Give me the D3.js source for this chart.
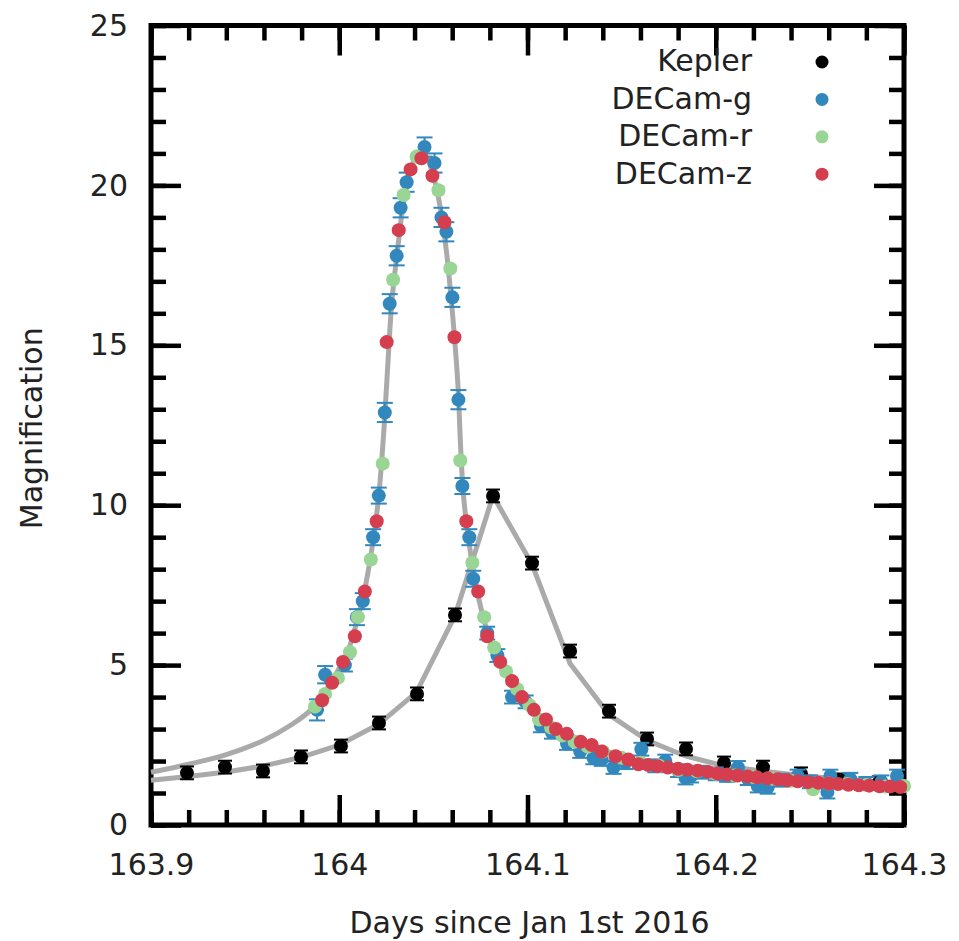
<!DOCTYPE html>
<html>
<head>
<meta charset="utf-8">
<script src="https://cdn.jsdelivr.net/npm/d3@7"></script>
<style>
  body { margin: 0; background: #fff; }
  text { font-family: "DejaVu Sans", sans-serif; fill: #222; }
</style>
</head>
<body>
<svg id="chart" width="959" height="941"></svg>
<script>
// ---- data ----
// Kepler photometry: time, magnification, error
var keplerT   = [163.9191,163.9393,163.9595,163.9797,164.0009,164.0211,164.0413,164.0615,164.0817,164.1024,164.1226,164.1433,164.1635,164.1842,164.2044,164.2251,164.2453,164.2660,164.2866];
var keplerMag = [1.63,1.81,1.69,2.13,2.47,3.19,4.10,6.57,10.29,8.19,5.44,3.56,2.69,2.38,1.94,1.81,1.60,1.41,1.32];
var keplerErr = 0.2;

// DECam bands: [time, magnification, error]
var decamG = [[163.9882,3.6,0.33],[163.9925,4.7,0.27],[164.0030,5.0,0.2],[164.0094,6.5,0.25],[164.0125,7.0,0.25],
  [164.0180,9.0,0.25],[164.0210,10.3,0.25],[164.0242,12.9,0.3],[164.0268,16.3,0.3],[164.0305,17.8,0.3],
  [164.0326,19.3,0.3],[164.0358,20.1,0.3],[164.0453,21.2,0.3],[164.0506,20.7,0.3],[164.0543,19.0,0.3],
  [164.0569,18.55,0.3],[164.0601,16.5,0.3],[164.0633,13.3,0.3],[164.0654,10.6,0.25],[164.0691,9.0,0.25],
  [164.0712,7.7,0.25],[164.0786,6.0,0.2],[164.0840,5.3,0.2],[164.0918,4.0,0.2],[164.0990,3.85,0.2],
  [164.1071,3.1,0.2],[164.1130,2.9,0.2],[164.1210,2.55,0.2],[164.1280,2.3,0.2],[164.1350,2.1,0.2],
  [164.1394,2.05,0.2],[164.1457,1.8,0.2],[164.1520,1.95,0.2],[164.1605,2.37,0.2],[164.1679,1.85,0.2],
  [164.1732,2.0,0.2],[164.1800,1.7,0.2],[164.1840,1.47,0.2],[164.1869,1.53,0.2],[164.1922,1.65,0.2],
  [164.2000,1.6,0.2],[164.2060,1.55,0.2],[164.2118,1.8,0.2],[164.2170,1.45,0.2],[164.2223,1.22,0.2],
  [164.2276,1.18,0.2],[164.2350,1.4,0.2],[164.2435,1.53,0.2],[164.2500,1.35,0.2],[164.2593,1.03,0.2],
  [164.2609,1.53,0.2],[164.2715,1.43,0.2],[164.2800,1.3,0.2],[164.2880,1.35,0.2],[164.2963,1.53,0.2]];

var decamR = [[163.9871,3.7,0.1],[163.9925,4.1,0.1],[163.9993,4.6,0.1],[164.0057,5.4,0.1],[164.0099,6.5,0.1],
  [164.0168,8.3,0.1],[164.0231,11.3,0.1],[164.0286,17.05,0.1],[164.0342,19.7,0.1],[164.0411,20.9,0.1],
  [164.0527,19.85,0.1],[164.0590,17.4,0.1],[164.0643,11.4,0.1],[164.0707,8.2,0.1],[164.0770,6.5,0.1],
  [164.0823,5.55,0.1],[164.0886,4.8,0.1],[164.0945,4.25,0.1],[164.1010,3.75,0.1],[164.1061,3.3,0.1],
  [164.1125,3.05,0.1],[164.1185,2.8,0.1],[164.1250,2.6,0.1],[164.1320,2.45,0.1],[164.1400,2.3,0.1],
  [164.1500,2.1,0.1],[164.1600,1.95,0.1],[164.1700,1.85,0.1],[164.1800,1.72,0.1],[164.1900,1.68,0.1],
  [164.2000,1.6,0.1],[164.2100,1.55,0.1],[164.2200,1.5,0.1],[164.2300,1.45,0.1],[164.2400,1.38,0.1],
  [164.2517,1.12,0.1],[164.2600,1.3,0.1],[164.2700,1.28,0.1],[164.2800,1.25,0.1],[164.2900,1.2,0.1],
  [164.3000,1.22,0.1]];

var decamZ = [[163.9909,3.9,0.08],[163.9962,4.45,0.08],[164.0020,5.1,0.08],[164.0083,5.9,0.08],[164.0136,7.3,0.08],
  [164.0199,9.5,0.08],[164.0252,15.1,0.08],[164.0316,18.6,0.08],[164.0379,20.5,0.08],[164.0437,20.85,0.08],
  [164.0495,20.3,0.08],[164.0559,18.85,0.08],[164.0612,15.25,0.08],[164.0675,9.5,0.08],[164.0738,7.3,0.08],
  [164.0786,5.9,0.08],[164.0855,5.1,0.08],[164.0918,4.5,0.08],[164.0971,4.0,0.08],[164.1034,3.6,0.08],
  [164.1098,3.3,0.08],[164.1151,3.0,0.08],[164.1209,2.85,0.08],[164.1283,2.6,0.08],[164.1341,2.5,0.08],
  [164.1394,2.3,0.08],[164.1468,2.15,0.08],[164.1536,2.05,0.08],[164.1589,1.9,0.08],[164.1640,1.88,0.08],
  [164.1690,1.84,0.08],[164.1745,1.8,0.08],[164.1800,1.76,0.08],[164.1850,1.73,0.08],[164.1905,1.7,0.08],
  [164.1960,1.66,0.08],[164.2010,1.61,0.08],[164.2060,1.58,0.08],[164.2115,1.55,0.08],[164.2170,1.52,0.08],
  [164.2220,1.49,0.08],[164.2275,1.46,0.08],[164.2330,1.43,0.08],[164.2380,1.40,0.08],[164.2435,1.37,0.08],
  [164.2490,1.34,0.08],[164.2545,1.32,0.08],[164.2600,1.30,0.08],[164.2650,1.28,0.08],[164.2705,1.26,0.08],
  [164.2760,1.24,0.08],[164.2815,1.23,0.08],[164.2870,1.21,0.08],[164.2925,1.2,0.08],[164.2980,1.19,0.08]];

// model curves (gray lines)
var modelT   = [163.900,163.920,163.940,163.960,163.975,163.985,163.990,163.995,164.000,164.005,164.010,164.014,164.018,164.021,164.024,164.026,164.028,164.031,164.034,164.038,164.042,164.046,164.050,164.054,164.057,164.060,164.063,164.0645,164.066,164.069,164.072,164.076,164.080,164.085,164.090,164.095,164.100,164.110,164.120,164.130,164.140,164.150,164.160,164.180,164.200,164.220,164.240,164.260,164.280,164.300];
var modelMag = [1.65,1.9,2.2,2.65,3.15,3.6,3.95,4.4,4.9,5.5,6.5,7.5,8.9,10.3,12.6,14.6,16.4,18.0,19.4,20.5,21.0,20.9,20.3,19.2,17.9,16.1,13.8,11.8,10.3,8.8,7.7,6.6,5.8,5.1,4.6,4.2,3.8,3.25,2.9,2.6,2.35,2.15,1.95,1.75,1.6,1.5,1.38,1.3,1.24,1.18];
var keplerModelT   = [163.900,163.920,163.940,163.960,163.980,164.000,164.021,164.041,164.0615,164.0817,164.1024,164.1226,164.1433,164.1635,164.1842,164.2044,164.2251,164.2453,164.2660,164.2866,164.300];
var keplerModelMag = [1.40,1.52,1.66,1.85,2.12,2.50,3.15,4.15,6.55,10.3,8.15,5.05,3.45,2.65,2.15,1.85,1.68,1.55,1.43,1.35,1.30];

var legendNames  = ["Kepler","DECam-g","DECam-r","DECam-z"];
var legendColors = ["#000000","#3288bd","#99d594","#d53e4f"];

// ---- set up ----
var pL = 151, pR = 904, pT = 25.5, pB = 825;
var svg = d3.select("#chart");

var x = d3.scaleLinear().domain([163.9, 164.3]).range([pL, pR]);
var y = d3.scaleLinear().domain([0, 25]).range([pB, pT]);

var majorX = [163.9, 164.0, 164.1, 164.2, 164.3];
var minorX = d3.range(0, 21).map(function(i) { return 163.9 + i * 0.02; });
var majorY = [0, 5, 10, 15, 20, 25];
var minorY = d3.range(0, 26);

var fmtX = function(d) { return d3.format(".1f")(d).replace(/\.0$/, ""); };

// ticks pointing inwards, on all four sides
function ticks(axis, pos, vals, size, labels) {
  var g = svg.append("g").attr("transform", pos)
    .call(axis.tickValues(vals).tickSizeInner(-size).tickSizeOuter(0));
  g.select(".domain").remove();
  g.selectAll(".tick line").attr("stroke", "#000").attr("stroke-width", 4.5);
  if (!labels) g.selectAll(".tick text").remove();
  return g;
}
ticks(d3.axisBottom(x), "translate(0," + pB + ")", minorX, 15, false);
ticks(d3.axisTop(x), "translate(0," + pT + ")", minorX, 15, false);
ticks(d3.axisLeft(y), "translate(" + pL + ",0)", minorY, 15, false);
ticks(d3.axisRight(y), "translate(" + pR + ",0)", minorY, 15, false);

ticks(d3.axisBottom(x).tickFormat(fmtX).tickPadding(29), "translate(0," + pB + ")", majorX, 30, true);
ticks(d3.axisTop(x), "translate(0," + pT + ")", majorX, 30, false);
ticks(d3.axisLeft(y).tickFormat(d3.format("d")).tickPadding(23), "translate(" + pL + ",0)", majorY, 30, true);
ticks(d3.axisRight(y), "translate(" + pR + ",0)", majorY, 30, false);

svg.selectAll(".tick text").attr("font-size", 30).attr("font-family", "DejaVu Sans").attr("fill", "#222");

// frame
svg.append("rect")
  .attr("x", pL).attr("y", pT)
  .attr("width", pR - pL).attr("height", pB - pT)
  .attr("fill", "none").attr("stroke", "#000").attr("stroke-width", 5);

// model lines
var line = d3.line().x(function(d) { return x(d[0]); }).y(function(d) { return y(d[1]); });
svg.append("path")
  .datum(modelT.map(function(t, i) { return [t, modelMag[i]]; }))
  .attr("d", line.curve(d3.curveCatmullRom.alpha(0.5)))
  .attr("fill", "none").attr("stroke", "#aaaaaa").attr("stroke-width", 5);
svg.append("path")
  .datum(keplerModelT.map(function(t, i) { return [t, keplerModelMag[i]]; }))
  .attr("d", d3.line().x(function(d) { return x(d[0]); }).y(function(d) { return y(d[1]); }))
  .attr("fill", "none").attr("stroke", "#aaaaaa").attr("stroke-width", 5);

// points with error bars
function drawPoints(data, color, cap) {
  var g = svg.append("g");
  var pts = g.selectAll("g").data(data).join("g");
  pts.append("line")
    .attr("x1", function(d) { return x(d[0]); }).attr("x2", function(d) { return x(d[0]); })
    .attr("y1", function(d) { return y(d[1] - d[2]); }).attr("y2", function(d) { return y(d[1] + d[2]); })
    .attr("stroke", color).attr("stroke-width", 2);
  [-1, 1].forEach(function(s) {
    pts.append("line")
      .attr("x1", function(d) { return x(d[0]) - cap; }).attr("x2", function(d) { return x(d[0]) + cap; })
      .attr("y1", function(d) { return y(d[1] + s * d[2]); }).attr("y2", function(d) { return y(d[1] + s * d[2]); })
      .attr("stroke", color).attr("stroke-width", 2);
  });
  pts.append("circle")
    .attr("cx", function(d) { return x(d[0]); }).attr("cy", function(d) { return y(d[1]); })
    .attr("r", 7).attr("fill", color);
}

drawPoints(keplerT.map(function(t, i) { return [t, keplerMag[i], keplerErr]; }), legendColors[0], 7);
drawPoints(decamG, legendColors[1], 8);
drawPoints(decamR, legendColors[2], 6);
drawPoints(decamZ, legendColors[3], 6);

// legend
var leg = svg.append("g");
legendNames.forEach(function(name, i) {
  leg.append("text")
    .attr("x", 752).attr("y", 71 + i * 37.7)
    .attr("text-anchor", "end").attr("font-size", 30)
    .text(name);
  leg.append("circle")
    .attr("cx", 822).attr("cy", 62 + i * 37.4)
    .attr("r", 6.5).attr("fill", legendColors[i]);
});

// axis titles
svg.append("text")
  .attr("x", (pL + pR) / 2 + 2).attr("y", 933)
  .attr("text-anchor", "middle").attr("font-size", 30)
  .text("Days since Jan 1st 2016");
svg.append("text")
  .attr("transform", "translate(42," + ((pT + pB) / 2 + 3) + ") rotate(-90)")
  .attr("text-anchor", "middle").attr("font-size", 30)
  .text("Magnification");
</script>
</body>
</html>
